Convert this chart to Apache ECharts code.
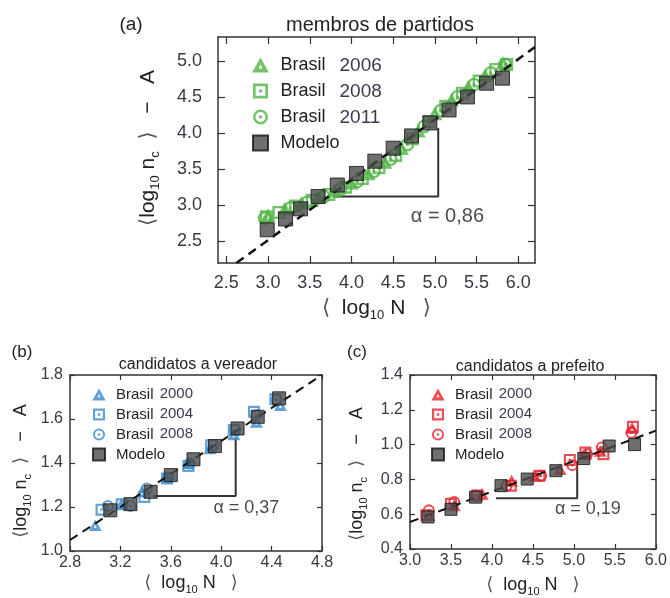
<!DOCTYPE html>
<html>
<head>
<meta charset="utf-8">
<script src="https://cdn.jsdelivr.net/npm/echarts@6/dist/echarts.min.js"></script>
<style>
html,body{margin:0;padding:0;background:#fff;}
#chart{width:670px;height:598px;}
</style>
</head>
<body>
<div id="chart"></div>
<script>
// ---------- Panel (a): membros de partidos ----------
const aTicksX = [2.5, 3.0, 3.5, 4.0, 4.5, 5.0, 5.5, 6.0];
const aTicksY = [2.5, 3.0, 3.5, 4.0, 4.5, 5.0];
const a2006 = [[3.00,2.86],[3.20,2.95],[3.40,3.03],[3.60,3.11],[3.80,3.20],[4.00,3.31],[4.20,3.44],[4.40,3.60],[4.60,3.79],[4.80,4.03],[5.00,4.27],[5.20,4.46],[5.40,4.64],[5.60,4.80],[5.82,4.97]];
const a2008 = [[2.98,2.84],[3.13,2.90],[3.33,2.99],[3.53,3.07],[3.73,3.15],[3.93,3.25],[4.13,3.37],[4.33,3.52],[4.53,3.69],[4.73,3.92],[4.93,4.16],[5.13,4.37],[5.33,4.55],[5.53,4.72],[5.73,4.88],[5.86,4.95]];
const a2011 = [[2.96,2.82],[3.27,2.96],[3.47,3.04],[3.67,3.12],[3.87,3.22],[4.07,3.33],[4.27,3.47],[4.47,3.64],[4.67,3.84],[4.87,4.09],[5.07,4.31],[5.27,4.50],[5.47,4.67],[5.67,4.83],[5.84,4.95]];
const aModelo = [[2.99,2.66],[3.21,2.81],[3.39,2.95],[3.60,3.12],[3.83,3.28],[4.06,3.44],[4.28,3.61],[4.50,3.79],[4.72,3.96],[4.94,4.14],[5.17,4.32],[5.39,4.50],[5.62,4.69],[5.81,4.76]];
const aFit = [[2.62,2.20],[6.20,5.19]];
const aSlope = [[3.78,3.12],[5.04,3.12],[5.04,4.07]];
const aAlpha = [[5.15,2.85,'α = 0,86']];

// ---------- Panel (b): candidatos a vereador ----------
const bTicksX = [2.8, 3.2, 3.6, 4.0, 4.4, 4.8];
const bTicksY = [1.0, 1.2, 1.4, 1.6, 1.8];
const b2000 = [[3.00,1.117],[3.21,1.216],[3.37,1.270],[3.57,1.337],[3.74,1.398],[3.91,1.466],[4.10,1.530],[4.28,1.587],[4.47,1.663]];
const b2004 = [[3.05,1.188],[3.21,1.212],[3.39,1.246],[3.57,1.330],[3.74,1.386],[3.92,1.481],[4.10,1.550],[4.26,1.633],[4.43,1.690]];
const b2008 = [[3.10,1.205],[3.28,1.205],[3.41,1.284],[3.58,1.334],[3.75,1.398],[3.94,1.481],[4.11,1.550],[4.28,1.618],[4.44,1.686]];
const bModelo = [[3.12,1.185],[3.28,1.213],[3.44,1.269],[3.60,1.345],[3.78,1.417],[3.95,1.477],[4.13,1.557],[4.29,1.610],[4.46,1.694]];
const bFit = [[2.80,1.05],[4.80,1.80]];
const bSlope = [[3.46,1.25],[4.115,1.25],[4.115,1.512]];
const bAlpha = [[4.20,1.194,'α = 0,37']];

// ---------- Panel (c): candidatos a prefeito ----------
const cTicksX = [3.0, 3.5, 4.0, 4.5, 5.0, 5.5, 6.0];
const cTicksY = [0.4, 0.6, 0.8, 1.0, 1.2, 1.4];
const c2000 = [[3.23,0.594],[3.54,0.650],[3.88,0.717],[4.24,0.793],[4.52,0.821],[4.83,0.859],[5.14,0.945],[5.32,0.964],[5.71,1.096]];
const c2004 = [[3.20,0.594],[3.50,0.660],[3.82,0.707],[4.23,0.764],[4.58,0.821],[4.95,0.912],[5.14,0.954],[5.36,0.945],[5.72,1.102]];
const c2008 = [[3.23,0.622],[3.54,0.670],[3.80,0.707],[4.18,0.764],[4.60,0.821],[4.98,0.882],[5.16,0.945],[5.34,0.983],[5.70,1.068]];
const cModelo = [[3.22,0.584],[3.50,0.628],[3.80,0.698],[4.11,0.764],[4.43,0.802],[4.78,0.850],[5.12,0.920],[5.43,0.992],[5.74,1.000]];
const cFit = [[3.00,0.555],[6.00,1.080]];
const cSlope = [[4.05,0.692],[5.04,0.692],[5.04,0.907]];
const cAlpha = [[5.17,0.632,'α = 0,19']];

// ---------- styles ----------
const FONT = '"Liberation Sans", Arial, Helvetica, sans-serif';
const GREEN = '#4fb444', BLUE = '#3a89cc', RED = '#e3222b';
const MODELO_FILL = '#4b4b4b';
const AXIS_COLOR = '#333';
const TICK_COLOR = '#383844';
const SYM_TRI = 'path://M5,0 L10,9 L0,9 Z M5,4.2 L3.9,6.6 L6.1,6.6 Z';
const SYM_SQR = 'path://M0,0 L10,0 L10,10 L0,10 Z M1.8,1.8 L1.8,8.2 L8.2,8.2 L8.2,1.8 Z M4,4 L6,4 L6,6 L4,6 Z';
const SYM_CIR = 'path://M5,0 A5,5 0 1,1 5,10 A5,5 0 1,1 5,0 Z M5,1.7 A3.3,3.3 0 1,0 5,8.3 A3.3,3.3 0 1,0 5,1.7 Z M5,3.9 A1.1,1.1 0 1,1 5,6.1 A1.1,1.1 0 1,1 5,3.9 Z';
const SYM_BOX = 'path://M0,0 L10,0 L10,10 L0,10 Z';

const legendLabels = {
  'a2006':'{n|Brasil}  {y|2006}', 'a2008':'{n|Brasil}  {y|2008}', 'a2011':'{n|Brasil}  {y|2011}', 'aModelo':'{n|Modelo}',
  'b2000':'{n|Brasil} {y|2000}', 'b2004':'{n|Brasil} {y|2004}', 'b2008':'{n|Brasil} {y|2008}', 'bModelo':'{n|Modelo}',
  'c2000':'{n|Brasil} {y|2000}', 'c2004':'{n|Brasil} {y|2004}', 'c2008':'{n|Brasil} {y|2008}', 'cModelo':'{n|Modelo}'
};

const grids = [
  {left:218, top:37, width:317, height:226},
  {left:70, top:375, width:252, height:176},
  {left:410, top:375, width:250, height:176}
];

const nameRich = (fs) => ({
  l:{fontSize:fs, fontFamily:FONT, color:'#222', lineHeight:fs+6},
  s:{fontSize:Math.round(fs*0.62), fontFamily:FONT, color:'#222', verticalAlign:'bottom', lineHeight:Math.round(fs*0.62)},
  g:{fontSize:fs, fontFamily:'DejaVu Sans', color:'#555', lineHeight:fs+6}
});
const X_NAME = '{g|⟨}  {l|log}{s|10} {l|N}   {g|⟩}';
const Y_NAME = '{g|⟨}{l|log}{s|10} {l|n}{s|c}  {g|⟩}   {l|−}   {l|A}';

function makeX(gi, min, max, ticks, fs, margin, nameGap, nameFs, namePad) {
  const common = {
    type:'value', gridIndex:gi, min:min, max:max,
    splitLine:{show:false},
    axisLine:{show:true, onZero:false, lineStyle:{color:AXIS_COLOR, width:1.5}},
    axisTick:{show:true, inside:true, length:gi===0?7:5, customValues:ticks, lineStyle:{color:AXIS_COLOR, width:1.2}}
  };
  return [
    Object.assign({}, common, {
      position:'bottom',
      axisLabel:{show:true, customValues:ticks, formatter:v=>v.toFixed(1), fontSize:fs, fontFamily:FONT, color:TICK_COLOR, margin:margin},
      name:X_NAME, nameLocation:'middle', nameGap:nameGap,
      nameTextStyle:{rich:nameRich(nameFs), fontSize:nameFs, fontFamily:FONT, color:'#222', padding:namePad}
    }),
    Object.assign({}, common, {position:'top', axisLabel:{show:false}})
  ];
}
function makeY(gi, min, max, ticks, fs, margin, nameGap, nameFs, namePad) {
  const common = {
    type:'value', gridIndex:gi, min:min, max:max,
    splitLine:{show:false},
    axisLine:{show:true, onZero:false, lineStyle:{color:AXIS_COLOR, width:1.5}},
    axisTick:{show:true, inside:true, length:gi===0?7:5, customValues:ticks, lineStyle:{color:AXIS_COLOR, width:1.2}}
  };
  return [
    Object.assign({}, common, {
      position:'left',
      axisLabel:{show:true, customValues:ticks, formatter:v=>v.toFixed(1), fontSize:fs, fontFamily:FONT, color:TICK_COLOR, margin:margin},
      name:Y_NAME, nameLocation:'middle', nameGap:nameGap, nameRotate:90,
      nameTextStyle:{rich:nameRich(nameFs), fontSize:nameFs, fontFamily:FONT, color:'#222', padding:namePad}
    }),
    Object.assign({}, common, {position:'right', axisLabel:{show:false}})
  ];
}

const xAxes = [].concat(
  makeX(0, 2.4, 6.2, aTicksX, 18, 11, 32, 21, [0,0,0,0]),
  makeX(1, 2.8, 4.8, bTicksX, 16, 4, 20, 18, [0,10,0,0]),
  makeX(2, 3.0, 6.0, cTicksX, 16, 4, 24, 18, [0,0,0,0])
);
const yAxes = [].concat(
  makeY(0, 2.2, 5.33, aTicksY, 18, 16, 56, 21, [0,0,0,4]),
  makeY(1, 1.0, 1.8, bTicksY, 16, 7, 37, 18, [0,16,0,0]),
  makeY(2, 0.4, 1.4, cTicksY, 16, 7, 41, 18, [0,24,0,0])
);

function scatter(name, ai, data, symbol, color, size, filled) {
  return {
    name:name, type:'scatter', xAxisIndex:ai, yAxisIndex:ai, data:data,
    symbol:symbol, symbolSize:size, symbolKeepAspect:true,
    itemStyle: filled ? {color:MODELO_FILL, borderColor:'#111', borderWidth:1} : {color:color},
    z:filled?4:2
  };
}
function fitLine(ai, data, w) {
  return {type:'line', xAxisIndex:ai, yAxisIndex:ai, data:data, showSymbol:false, symbol:'none', silent:true,
    lineStyle:{color:'#111', width:w, type:[9,6]}, z:3, clip:true};
}
function slopeLine(ai, data) {
  return {type:'line', xAxisIndex:ai, yAxisIndex:ai, data:data, showSymbol:false, symbol:'none', silent:true,
    lineStyle:{color:'#333', width:2}, z:1};
}
function alphaText(ai, data, fs) {
  return {type:'scatter', xAxisIndex:ai, yAxisIndex:ai, data:data, symbolSize:0, silent:true, z:5,
    label:{show:true, position:'inside', formatter:p=>p.data[2], fontSize:fs, fontFamily:FONT, color:'#1a1a1a'}};
}

const series = [
  slopeLine(0, aSlope), slopeLine(2, bSlope), slopeLine(4, cSlope),
  scatter('a2011', 0, a2011, SYM_CIR, GREEN, 14),
  scatter('a2008', 0, a2008, SYM_SQR, GREEN, 13),
  scatter('a2006', 0, a2006, SYM_TRI, GREEN, 15),
  fitLine(0, aFit, 2.5),
  scatter('aModelo', 0, aModelo, SYM_BOX, null, 14, true),
  scatter('b2008', 2, b2008, SYM_CIR, BLUE, 12),
  scatter('b2004', 2, b2004, SYM_SQR, BLUE, 12),
  scatter('b2000', 2, b2000, SYM_TRI, BLUE, 13),
  fitLine(2, bFit, 2),
  scatter('bModelo', 2, bModelo, SYM_BOX, null, 13, true),
  scatter('c2008', 4, c2008, SYM_CIR, RED, 12),
  scatter('c2004', 4, c2004, SYM_SQR, RED, 12),
  scatter('c2000', 4, c2000, SYM_TRI, RED, 13),
  fitLine(4, cFit, 2),
  scatter('cModelo', 4, cModelo, SYM_BOX, null, 12, true),
  alphaText(0, aAlpha, 20), alphaText(2, bAlpha, 18), alphaText(4, cAlpha, 18)
];

function legend(names, left, top, iw, ih, fs, yfs, lh, ylh, gap, yGap) {
  return {
    data:names, orient:'vertical', left:left, top:top, padding:0, itemWidth:iw, itemHeight:ih, itemGap:gap,
    selectedMode:false, symbolKeepAspect:true, formatter:n=>legendLabels[n],
    textStyle:{fontFamily:FONT, fontSize:fs, lineHeight:lh, color:'#222',
      rich:{n:{fontFamily:FONT, fontSize:fs, color:'#1e1e1e', lineHeight:lh},
            y:{fontFamily:FONT, fontSize:yfs, color:'#3c3a50', lineHeight:ylh, verticalAlign:'top', padding:[0,0,0,yGap]}}}
  };
}

const labelText = (t, x, y, fs) => ({
  type:'text', x:x, y:y, silent:true,
  style:{text:t, font:fs + 'px ' + FONT, fill:'#222', align:'center', verticalAlign:'middle', textAlign:'center', textVerticalAlign:'middle'}
});

const option = {
  backgroundColor:'#fff',
  animation:false,
  grid:grids,
  xAxis:xAxes,
  yAxis:yAxes,
  legend:[
    legend(['a2006','a2008','a2011','aModelo'], 252, 56, 30, 15, 18, 19, 18, 18, 7, 4),
    legend(['b2000','b2004','b2008','bModelo'], 92, 386, 24, 12, 15, 15, 17, 13, 3, 2),
    legend(['c2000','c2004','c2008','cModelo'], 431, 386, 24, 12, 15, 15, 17, 13, 3, 2)
  ],
  series:series,
  graphic:[
    labelText('(a)', 131, 25, 19),
    labelText('membros de partidos', 380, 25, 20),
    labelText('(b)', 22, 352, 17),
    labelText('candidatos a vereador', 198, 365, 16),
    labelText('(c)', 357, 352, 17),
    labelText('candidatos a prefeito', 530, 367, 16)
  ]
};

const chart = echarts.init(document.getElementById('chart'), null, {renderer:'canvas'});
chart.setOption(option);
</script>
</body>
</html>
